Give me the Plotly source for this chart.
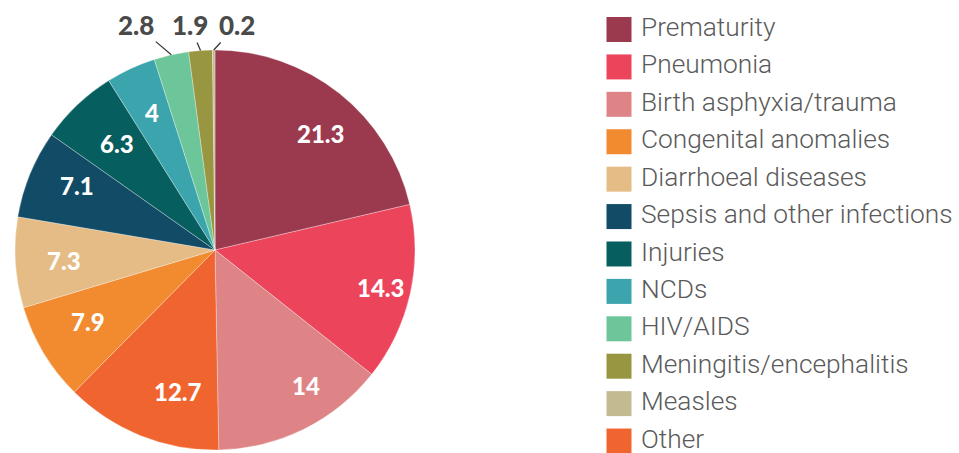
import math
import plotly.graph_objects as go

# ---------------- data ----------------
slice_labels = ["Prematurity", "Pneumonia", "Birth asphyxia/trauma", "Other",
                "Congenital anomalies", "Diarrhoeal diseases", "Sepsis and other infections",
                "Injuries", "NCDs", "HIV/AIDS", "Meningitis/encephalitis", "Measles"]
slice_values = [21.3, 14.3, 14, 12.7, 7.9, 7.3, 7.1, 6.3, 4, 2.8, 1.9, 0.2]
slice_text = ["21.3", "14.3", "14", "12.7", "7.9", "7.3", "7.1", "6.3", "4", "2.8", "1.9", "0.2"]

legend_labels = ["Prematurity", "Pneumonia", "Birth asphyxia/trauma", "Congenital anomalies",
                 "Diarrhoeal diseases", "Sepsis and other infections", "Injuries", "NCDs",
                 "HIV/AIDS", "Meningitis/encephalitis", "Measles", "Other"]

color_map = {
    "Prematurity": "#9B3A4E",
    "Pneumonia": "#EC445B",
    "Birth asphyxia/trauma": "#DE8487",
    "Congenital anomalies": "#F28B30",
    "Diarrhoeal diseases": "#E6BC86",
    "Sepsis and other infections": "#124B66",
    "Injuries": "#075E5E",
    "NCDs": "#3BA4AC",
    "HIV/AIDS": "#6DC69A",
    "Meningitis/encephalitis": "#989641",
    "Measles": "#C4BA92",
    "Other": "#F0652F",
}

# ---------------- layout geometry (pixels) ----------------
W, H = 959, 453
CX, CY, R = 215, 250, 200
INSIDE_MIN = 4.0          # values below this get outside labels
OUTSIDE_Y = 25            # pixel row of outside labels
outside_dx = {"2.8": -35, "1.9": -11, "0.2": 23}

fig = go.Figure()

fig.add_trace(go.Pie(
    labels=slice_labels,
    values=slice_values,
    sort=False,
    direction="clockwise",
    rotation=0,
    marker=dict(colors=[color_map[l] for l in slice_labels],
                line=dict(color="rgba(255,255,255,0.6)", width=0.5)),
    textinfo="none",
    textposition="none",
    hoverinfo="label+value",
    showlegend=False,
    domain=dict(x=[(CX - R) / W, (CX + R) / W], y=[1 - (CY + R) / H, 1 - (CY - R) / H]),
))

# slice value labels computed from the data
total = sum(slice_values)
cum = 0.0
for v, t in zip(slice_values, slice_text):
    mid = (cum + v / 2) / total * 2 * math.pi
    cum += v
    s, c = math.sin(mid), math.cos(mid)
    if v >= INSIDE_MIN:
        rr = 0.85 * R
        px, py = CX + rr * s, CY - rr * c
        fig.add_annotation(x=px / W, y=1 - py / H, xref="paper", yref="paper",
                           text=t, showarrow=False,
                           font=dict(family="Lato", size=24, color="white", weight=900))
    else:
        ex, ey = CX + R * s, CY - R * c
        fig.add_annotation(x=ex / W, y=1 - ey / H, xref="paper", yref="paper",
                           text=t, showarrow=True, arrowhead=0, arrowwidth=1.3,
                           arrowcolor="#3a3a3a", axref="pixel", ayref="pixel",
                           ax=outside_dx[t], ay=OUTSIDE_Y - ey, standoff=0,
                           font=dict(family="Lato", size=26, color="#4a4a4a", weight=900))

# legend drawn as a scatter column
n = len(legend_labels)
fig.add_trace(go.Scatter(
    x=[0] * n,
    y=list(range(n)),
    mode="markers+text",
    marker=dict(symbol="square", size=25, color=[color_map[l] for l in legend_labels]),
    text=["\u2009" + l for l in legend_labels],
    textposition="middle right",
    textfont=dict(family="Roboto", size=26.3, color="#5a5a5a", weight=300),
    cliponaxis=False,
    hoverinfo="text",
    showlegend=False,
    xaxis="x", yaxis="y",
))

fig.update_layout(
    width=W, height=H,
    margin=dict(l=0, r=0, t=0, b=0),
    paper_bgcolor="white",
    plot_bgcolor="white",
    showlegend=False,
    xaxis=dict(domain=[619 / W, 1.0], range=[0, 1], visible=False, fixedrange=True),
    yaxis=dict(domain=[0, 1], range=[11.32, -0.789], visible=False, fixedrange=True),
)

fig.write_html("out.html", config={"displayModeBar": False},
               post_script="document.body.style.margin='0';document.body.style.overflow='hidden';")
